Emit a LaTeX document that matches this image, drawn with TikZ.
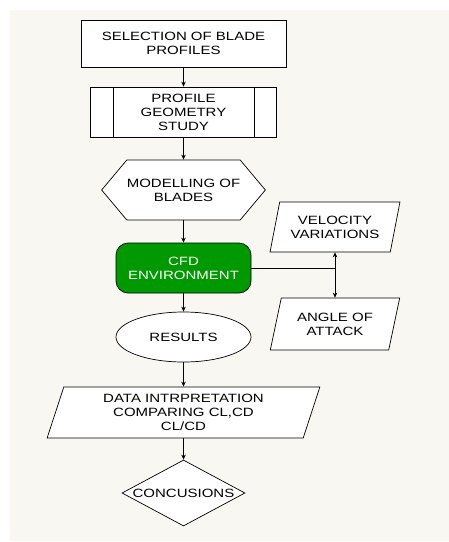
\documentclass[tikz,border=0pt]{standalone}
\usepackage{fontspec}
\setmainfont[FakeStretch=1.25]{Liberation Sans}
\usetikzlibrary{shapes.geometric,shapes.symbols,positioning,arrows.meta}
\definecolor{paper}{RGB}{249,247,241}
\definecolor{cfdgreen}{RGB}{0,153,0}

\begin{document}
\begin{tikzpicture}[x=1pt, y=-1pt,
    box/.style={draw, line width=0.7pt, fill=white, align=center, inner sep=0pt, font=\fontsize{12}{14}\selectfont},
    flow/.style={-{Stealth[length=5pt,width=4.5pt]}, line width=0.7pt},
    slanted/.style={box, trapezium, trapezium left angle=71, trapezium right angle=109, trapezium stretches=true}]
    \useasboundingbox (0,0) rectangle (449,542);
    \fill[paper] (10,10) rectangle (449,541);
    % Nodes
    \node (sel) [box, rectangle, minimum width=205, minimum height=47] at (183.5, 43.5) {SELECTION OF BLADE\\PROFILES};
    \node (prof) [box, rectangle, minimum width=186, minimum height=50] at (183.5, 112) {PROFILE\\GEOMETRY\\STUDY};
    \draw[line width=0.7pt] ([xshift=23pt]prof.north west) -- ([xshift=23pt]prof.south west);
    \draw[line width=0.7pt] ([xshift=-23pt]prof.north east) -- ([xshift=-23pt]prof.south east);
    \node (mod) [box, signal, signal to=east and west, signal pointer angle=100, minimum width=160, minimum height=60] at (183.5, 190) {MODELLING OF\\BLADES};
    \node (cfd) [box, rectangle, rounded corners=12pt, fill=cfdgreen, text=white, minimum width=135, minimum height=50] at (183.5, 268) {CFD\\ENVIRONMENT};
    \node (res) [box, ellipse, minimum width=135, minimum height=50] at (183.5, 337) {RESULTS};
    \node (vel) [slanted, minimum width=130, minimum height=50] at (335, 227) {VELOCITY\\VARIATIONS};
    \node (ang) [slanted, minimum width=130, minimum height=52] at (335, 324) {ANGLE OF\\ATTACK};
    \node (data) [slanted, trapezium left angle=73, trapezium right angle=107, minimum width=273, minimum height=51] at (183.5, 412.5) {DATA INTRPRETATION\\COMPARING CL,CD\\CL/CD};
    \node (conc) [box, diamond, minimum width=123, minimum height=66] at (183.5, 493) {\makebox[0pt]{CONCUSIONS}};
    % Arrows
    \draw[flow] (sel.south) -- (prof.north);
    \draw[flow] (prof.south) -- (mod.south |- mod.north);
    \draw[flow] (mod.south) -- (cfd.north);
    \draw[flow] (cfd.south) -- (res.north);
    \draw[flow] (res.south) -- (res.south |- data.north);
    \draw[flow] (res.south |- data.south) -- (conc.north);
    \draw[line width=0.7pt] (cfd.east) -- (vel.center |- cfd.east);
    \draw[flow, {Stealth[length=5pt,width=4.5pt]}-{Stealth[length=5pt,width=4.5pt]}] (vel.center |- vel.south) -- (ang.center |- ang.north);
\end{tikzpicture}
\end{document}
